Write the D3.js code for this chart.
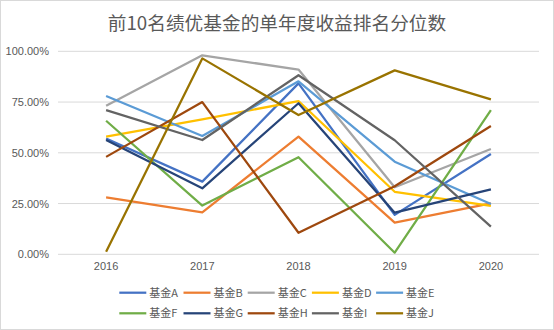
<!DOCTYPE html>
<html><head><meta charset="utf-8">
<script src="https://cdn.jsdelivr.net/npm/d3@7"></script>
<style>body{margin:0;background:#fff;}svg{display:block;}</style>
</head><body>
<svg id="c" width="554" height="330"></svg>
<script>
const title = "前10名绩优基金的单年度收益排名分位数";
const years = ["2016","2017","2018","2019","2020"];
const seriesNames = ["基金A","基金B","基金C","基金D","基金E","基金F","基金G","基金H","基金I","基金J"];
const colors = ["#4472C4","#ED7D31","#A5A5A5","#FFC000","#5B9BD5","#70AD47","#264478","#9E480E","#636363","#997300"];
const fundA = [57.0, 35.8, 84.2, 19.4, 49.4];
const fundB = [28.0, 20.7, 58.0, 15.6, 25.1];
const fundC = [73.2, 98.0, 91.0, 33.0, 51.9];
const fundD = [58.0, 66.5, 75.5, 30.8, 23.8];
const fundE = [78.0, 58.3, 85.2, 45.6, 24.8];
const fundF = [65.8, 24.0, 47.8, 0.8, 71.0];
const fundG = [56.3, 32.5, 74.4, 20.5, 32.0];
const fundH = [48.0, 75.0, 10.6, 33.5, 63.2];
const fundI = [71.0, 56.3, 88.2, 56.2, 13.6];
const fundJ = [1.3, 96.5, 68.6, 90.6, 76.3];
const yTicks = [0, 25, 50, 75, 100];
const allValues = [fundA,fundB,fundC,fundD,fundE,fundF,fundG,fundH,fundI,fundJ];

const svg = d3.select("#c");
svg.append("rect").attr("x",0.5).attr("y",0.5).attr("width",553).attr("height",329)
  .attr("fill","#fff").attr("stroke","#D9D9D9");

const font = "'Noto Sans CJK SC','Noto Sans',sans-serif";
svg.append("text").attr("x",277).attr("y",30).attr("text-anchor","middle")
  .attr("font-family",font).attr("font-size",18.7).attr("fill","#595959").text(title);

const x = d3.scaleBand().domain(years).range([58,539]);
const y = d3.scaleLinear().domain([0,100]).range([254.3,51.3]);

const g = svg.append("g");
g.selectAll("line.grid").data(yTicks).enter().append("line")
  .attr("x1",58).attr("x2",539).attr("y1",d=>y(d)).attr("y2",d=>y(d))
  .attr("stroke","#D9D9D9").attr("stroke-width",1);

const yAxis = d3.axisLeft(y).tickValues(yTicks).tickSize(0).tickPadding(0)
  .tickFormat(d=>d3.format(".2f")(d)+"%");
const ya = svg.append("g").attr("transform","translate(49,0)").call(yAxis);
ya.select(".domain").remove();
ya.selectAll("text").attr("font-family","'Liberation Sans',Arial,sans-serif").attr("font-size",11).attr("fill","#595959");

const xAxis = d3.axisBottom(x).tickSize(0).tickPadding(0);
const xa = svg.append("g").attr("transform","translate(0,262)").call(xAxis);
xa.select(".domain").remove();
xa.selectAll("text").attr("font-family","'Liberation Sans',Arial,sans-serif").attr("font-size",11).attr("fill","#595959");

const line = d3.line().x((d,i)=>x(years[i])+x.bandwidth()/2).y(d=>y(d));
allValues.forEach((vals,k)=>{
  svg.append("path").datum(vals).attr("d",line).attr("fill","none")
    .attr("stroke",colors[k]).attr("stroke-width",2.25).attr("stroke-linejoin","round");
});

const leg = svg.append("g");
seriesNames.forEach((name,k)=>{
  const col = k%5, row = Math.floor(k/5);
  const lx = 119.3 + col*64.2, ly = 292.7 + row*20.6;
  leg.append("line").attr("x1",lx).attr("x2",lx+27).attr("y1",ly).attr("y2",ly)
    .attr("stroke",colors[k]).attr("stroke-width",2.25);
  leg.append("text").attr("x",lx+30).attr("y",ly+4).attr("font-family",font)
    .attr("font-size",11).attr("fill","#595959").text(name);
});
</script>
</body></html>
